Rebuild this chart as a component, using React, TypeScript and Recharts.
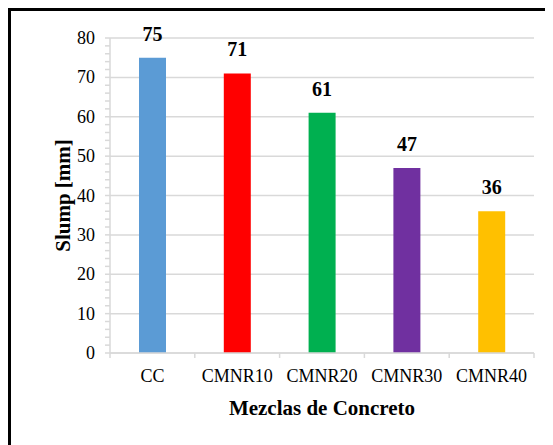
import React from 'react';
import { BarChart, Bar, XAxis, YAxis, CartesianGrid, Cell, LabelList } from 'recharts';

const categories = ['CC', 'CMNR10', 'CMNR20', 'CMNR30', 'CMNR40'];
const slumpValues = [75, 71, 61, 47, 36];
const barColors = ['#5B9BD5', '#FF0000', '#00B050', '#7030A0', '#FFC000'];
const majorTicks = [0, 10, 20, 30, 40, 50, 60, 70, 80];
const allTicks = [
    0, 2, 4, 6, 8, 10, 12, 14, 16, 18, 20, 22, 24, 26, 28, 30, 32, 34, 36, 38, 40,
    42, 44, 46, 48, 50, 52, 54, 56, 58, 60, 62, 64, 66, 68, 70, 72, 74, 76, 78, 80,
];

const data = categories.map((name, i) => ({ name, slump: slumpValues[i] }));

const FONT = "'Liberation Serif', 'Times New Roman', serif";
const GRID = '#d9d9d9';
const CHART_W = 545;
const CHART_H = 437;
const MARGIN = { top: 30, right: 19, left: 0, bottom: 0 };
const Y_AXIS_W = 102;
const PLOT_W = CHART_W - MARGIN.right - MARGIN.left - Y_AXIS_W;
const HALF_BAND = PLOT_W / categories.length / 2;

const textStyle = { fontFamily: FONT, fontSize: 18, fill: '#000' };
const boldStyle = { fontFamily: FONT, fontSize: 20, fontWeight: 'bold' as const, fill: '#000' };
const titleStyle = { ...boldStyle, fontSize: 21 };

const YTick = (props: any) => {
    const { x, y, payload } = props;
    if (payload.value % 10 !== 0) return <g />;
    return (
        <text x={x} y={y} textAnchor="end" dominantBaseline="central" style={textStyle}>
            {payload.value}
        </text>
    );
};

const XTick = (props: any) => {
    const { x, y, payload, index } = props;
    return (
        <g>
            <line x1={x - HALF_BAND} x2={x - HALF_BAND} y1={y} y2={y + 5} stroke={GRID} strokeWidth={1.5} />
            {index === categories.length - 1 && (
                <line x1={x + HALF_BAND} x2={x + HALF_BAND} y1={y} y2={y + 5} stroke={GRID} strokeWidth={1.5} />
            )}
            <text x={x} y={y + 29} textAnchor="middle" style={textStyle}>
                {payload.value}
            </text>
        </g>
    );
};

const App: React.FC = () => {
    return (
        <div style={{ position: 'relative', width: CHART_W, height: CHART_H, fontFamily: FONT }}>
            <div
                style={{
                    position: 'absolute',
                    left: 0,
                    top: 0,
                    width: CHART_W + 10,
                    height: CHART_H + 10,
                    borderLeft: '3px solid #000',
                    borderTop: '3px solid #000',
                }}
            />
            <div style={{ position: 'absolute', left: 0, top: 0 }}>
                <BarChart width={CHART_W} height={CHART_H} data={data} margin={MARGIN}>
                    <CartesianGrid vertical={false} stroke={GRID} strokeWidth={1.5} horizontalValues={majorTicks} />
                    <XAxis
                        dataKey="name"
                        height={92}
                        axisLine={{ stroke: GRID, strokeWidth: 1.5 }}
                        tickLine={false}
                        tickSize={0}
                        tickMargin={0}
                        interval={0}
                        tick={<XTick />}
                        label={{
                            value: 'Mezclas de Concreto',
                            content: ({ viewBox }: any) => (
                                <text
                                    x={viewBox.x + viewBox.width / 2}
                                    y={viewBox.y + 62}
                                    textAnchor="middle"
                                    style={titleStyle}
                                >
                                    Mezclas de Concreto
                                </text>
                            ),
                        }}
                    />
                    <YAxis
                        width={Y_AXIS_W}
                        domain={[0, 80]}
                        ticks={allTicks}
                        interval={0}
                        axisLine={{ stroke: GRID, strokeWidth: 1.5 }}
                        tickLine={{ stroke: GRID, strokeWidth: 1.5 }}
                        tickSize={5}
                        tickMargin={10}
                        tick={<YTick />}
                        label={{
                            value: 'Slump [mm]',
                            content: ({ viewBox }: any) => {
                                const cx = 55;
                                const cy = viewBox.y + viewBox.height / 2;
                                return (
                                    <text
                                        x={cx}
                                        y={cy}
                                        transform={`rotate(-90, ${cx}, ${cy})`}
                                        textAnchor="middle"
                                        dominantBaseline="central"
                                        style={titleStyle}
                                    >
                                        Slump [mm]
                                    </text>
                                );
                            },
                        }}
                    />
                    <Bar dataKey="slump" barSize={27} isAnimationActive={false}>
                        {data.map((d, i) => (
                            <Cell key={d.name} fill={barColors[i]} />
                        ))}
                        <LabelList dataKey="slump" position="top" offset={17} style={boldStyle} />
                    </Bar>
                </BarChart>
            </div>
        </div>
    );
};

export default App;
